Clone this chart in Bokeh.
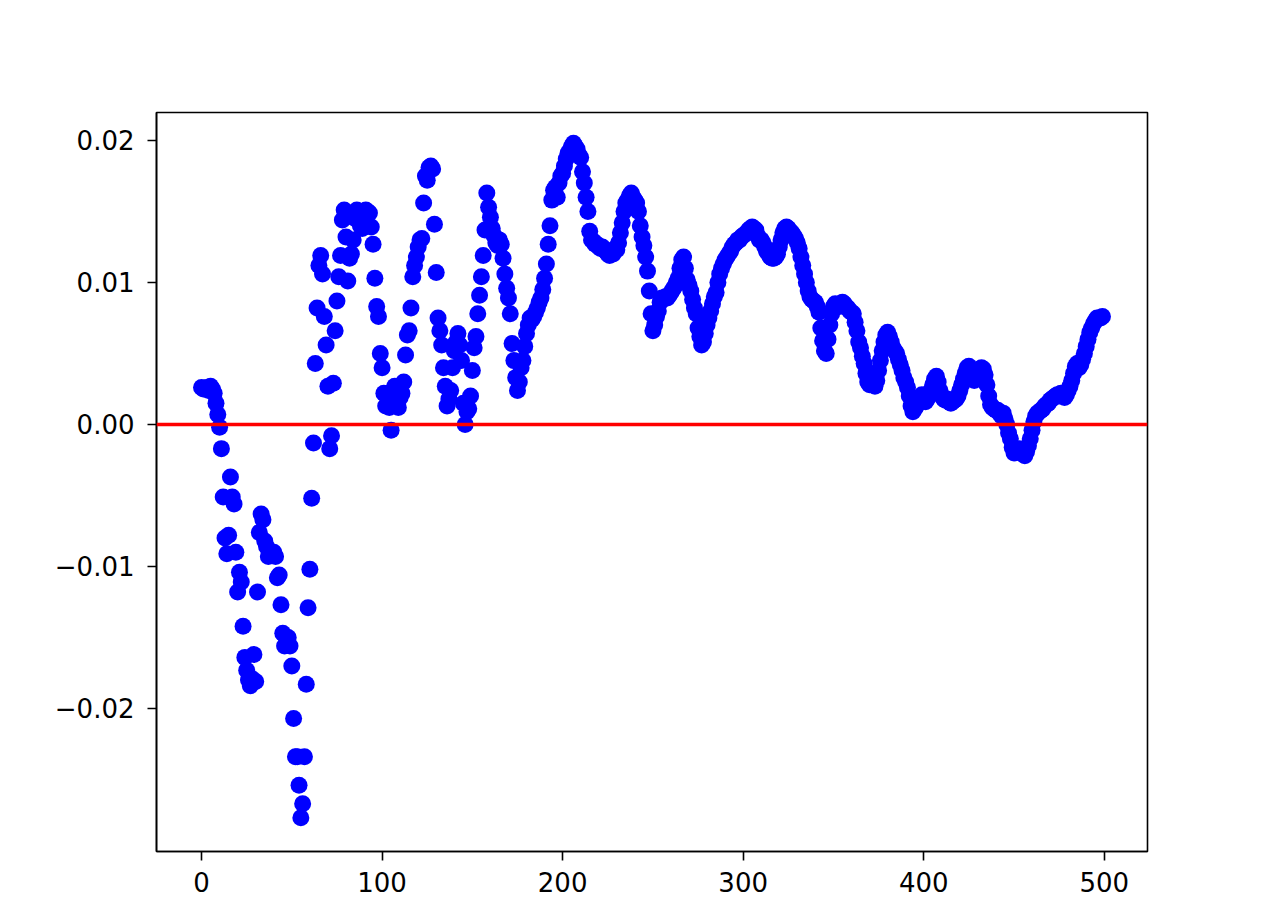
from bokeh.plotting import figure
from bokeh.models import Range1d, Span, FixedTicker
from bokeh.embed import file_html
from bokeh.resources import INLINE

# Series values, index 0..499
vals_000_099 = [
    0.0026, 0.0025, 0.0025, 0.0026, 0.0024, 0.0027, 0.0025, 0.0022, 0.0015, 0.0007,
    -0.0002, -0.0017, -0.0051, -0.0080, -0.0091, -0.0078, -0.0037, -0.0051, -0.0056, -0.0090,
    -0.0118, -0.0104, -0.0111, -0.0142, -0.0164, -0.0173, -0.0180, -0.0184, -0.0179, -0.0162,
    -0.0181, -0.0118, -0.0076, -0.0063, -0.0067, -0.0082, -0.0086, -0.0093, -0.0091, -0.0092,
    -0.0090, -0.0093, -0.0108, -0.0106, -0.0127, -0.0147, -0.0156, -0.0154, -0.0150, -0.0156,
    -0.0170, -0.0207, -0.0234, -0.0234, -0.0254, -0.0277, -0.0267, -0.0234, -0.0183, -0.0129,
    -0.0102, -0.0052, -0.0013, 0.0043, 0.0082, 0.0112, 0.0119, 0.0106, 0.0076, 0.0056,
    0.0027, -0.0017, -0.0008, 0.0029, 0.0066, 0.0087, 0.0104, 0.0119, 0.0144, 0.0151,
    0.0132, 0.0101, 0.0117, 0.0120, 0.0130, 0.0145, 0.0151, 0.0146, 0.0140, 0.0138,
    0.0145, 0.0151, 0.0150, 0.0149, 0.0139, 0.0127, 0.0103, 0.0083, 0.0076, 0.0050,
]
vals_100_199 = [
    0.0040, 0.0022, 0.0013, 0.0022, 0.0012, -0.0004, 0.0015, 0.0027, 0.0020, 0.0012,
    0.0019, 0.0022, 0.0030, 0.0049, 0.0063, 0.0066, 0.0082, 0.0104, 0.0112, 0.0118,
    0.0125, 0.0130, 0.0131, 0.0156, 0.0175, 0.0172, 0.0181, 0.0182, 0.0180, 0.0141,
    0.0107, 0.0075, 0.0066, 0.0056, 0.0040, 0.0027, 0.0013, 0.0018, 0.0024, 0.0040,
    0.0052, 0.0058, 0.0064, 0.0056, 0.0045, 0.0015, 0.0000, 0.0009, 0.0011, 0.0020,
    0.0038, 0.0054, 0.0062, 0.0078, 0.0091, 0.0104, 0.0119, 0.0137, 0.0163, 0.0153,
    0.0146, 0.0138, 0.0133, 0.0128, 0.0126, 0.0130, 0.0127, 0.0117, 0.0106, 0.0096,
    0.0089, 0.0078, 0.0057, 0.0045, 0.0033, 0.0024, 0.0030, 0.0040, 0.0045, 0.0055,
    0.0064, 0.0070, 0.0075, 0.0074, 0.0076, 0.0079, 0.0082, 0.0086, 0.0089, 0.0095,
    0.0103, 0.0113, 0.0127, 0.0140, 0.0158, 0.0165, 0.0167, 0.0160, 0.0170, 0.0175,
]
vals_200_299 = [
    0.0177, 0.0182, 0.0187, 0.0191, 0.0193, 0.0196, 0.0198, 0.0196, 0.0194, 0.0190,
    0.0188, 0.0178, 0.0170, 0.0160, 0.0150, 0.0136, 0.0130, 0.0129, 0.0127, 0.0127,
    0.0125, 0.0124, 0.0125, 0.0123, 0.0122, 0.0120, 0.0119, 0.0121, 0.0120, 0.0124,
    0.0123, 0.0128, 0.0135, 0.0142, 0.0150, 0.0156, 0.0158, 0.0161, 0.0163, 0.0160,
    0.0158, 0.0156, 0.0150, 0.0140, 0.0132, 0.0126, 0.0118, 0.0108, 0.0094, 0.0078,
    0.0066, 0.0070, 0.0076, 0.0080, 0.0086, 0.0089, 0.0089, 0.0090, 0.0089, 0.0091,
    0.0093, 0.0095, 0.0097, 0.0100, 0.0103, 0.0110, 0.0116, 0.0118, 0.0110, 0.0102,
    0.0098, 0.0094, 0.0088, 0.0082, 0.0078, 0.0068, 0.0062, 0.0056, 0.0058, 0.0064,
    0.0070, 0.0075, 0.0080, 0.0085, 0.0090, 0.0093, 0.0100, 0.0106, 0.0110, 0.0113,
    0.0116, 0.0118, 0.0120, 0.0122, 0.0125, 0.0127, 0.0128, 0.0130, 0.0130, 0.0132,
]
vals_300_399 = [
    0.0133, 0.0134, 0.0135, 0.0137, 0.0138, 0.0139, 0.0138, 0.0137, 0.0133, 0.0130,
    0.0130, 0.0128, 0.0125, 0.0122, 0.0120, 0.0118, 0.0117, 0.0117, 0.0118, 0.0120,
    0.0125, 0.0130, 0.0135, 0.0138, 0.0139, 0.0138, 0.0136, 0.0135, 0.0133, 0.0131,
    0.0128, 0.0124, 0.0118, 0.0112, 0.0106, 0.0100, 0.0094, 0.0090, 0.0088, 0.0087,
    0.0086, 0.0083, 0.0079, 0.0068, 0.0059, 0.0052, 0.0050, 0.0060, 0.0070, 0.0078,
    0.0083, 0.0085, 0.0084, 0.0083, 0.0085, 0.0086, 0.0085, 0.0083, 0.0082, 0.0080,
    0.0079, 0.0078, 0.0072, 0.0066, 0.0058, 0.0054, 0.0048, 0.0043, 0.0036, 0.0030,
    0.0028, 0.0031, 0.0029, 0.0027, 0.0031, 0.0038, 0.0045, 0.0052, 0.0058, 0.0063,
    0.0065, 0.0062, 0.0058, 0.0054, 0.0052, 0.0050, 0.0046, 0.0042, 0.0038, 0.0033,
    0.0030, 0.0026, 0.0020, 0.0013, 0.0009, 0.0011, 0.0013, 0.0016, 0.0019, 0.0021,
]
vals_400_499 = [
    0.0020, 0.0016, 0.0018, 0.0022, 0.0024, 0.0028, 0.0032, 0.0034, 0.0030, 0.0024,
    0.0020, 0.0018, 0.0017, 0.0018, 0.0016, 0.0015, 0.0016, 0.0017, 0.0018, 0.0020,
    0.0024, 0.0028, 0.0032, 0.0036, 0.0040, 0.0041, 0.0038, 0.0033, 0.0031, 0.0033,
    0.0036, 0.0039, 0.0040, 0.0039, 0.0035, 0.0028, 0.0020, 0.0014, 0.0012, 0.0011,
    0.0010, 0.0010, 0.0008, 0.0006, 0.0008, 0.0004, 0.0000, -0.0006, -0.0010, -0.0016,
    -0.0020, -0.0019, -0.0018, -0.0017, -0.0019, -0.0021, -0.0022, -0.0019, -0.0015, -0.0010,
    -0.0004, 0.0002, 0.0006, 0.0008, 0.0009, 0.0010, 0.0011, 0.0013, 0.0014, 0.0015,
    0.0017, 0.0018, 0.0019, 0.0020, 0.0021, 0.0020, 0.0022, 0.0020, 0.0019, 0.0021,
    0.0024, 0.0027, 0.0031, 0.0036, 0.0041, 0.0043, 0.0040, 0.0042, 0.0046, 0.0050,
    0.0055, 0.0060, 0.0065, 0.0068, 0.0071, 0.0073, 0.0075, 0.0075, 0.0075, 0.0076,
]

y_values = vals_000_099 + vals_100_199 + vals_200_299 + vals_300_399 + vals_400_499
x_values = list(range(len(y_values)))

x_ticks = [0, 100, 200, 300, 400, 500]
y_ticks = [-0.02, -0.01, 0.0, 0.01, 0.02]
y_tick_labels = {-0.02: "\u22120.02", -0.01: "\u22120.01", 0.0: "0.00", 0.01: "0.01", 0.02: "0.02"}

p = figure(width=1268, height=900, output_backend="svg", toolbar_location=None,
           x_range=Range1d(-24.95, 523.95), y_range=Range1d(-0.03007, 0.02197))
p.min_border_left = 156
p.min_border_right = 121
p.min_border_top = 112
p.min_border_bottom = 49
p.background_fill_color = "white"
p.border_fill_color = "white"
p.outline_line_color = "black"
p.outline_line_width = 1.6
p.xgrid.visible = False
p.ygrid.visible = False

p.scatter(x_values, y_values, size=17, marker="circle",
          fill_color="#0000ff", line_color="#0000ff", line_width=0)

p.add_layout(Span(location=0, dimension="width", line_color="#ff0000", line_width=3.5))

p.xaxis.ticker = FixedTicker(ticks=x_ticks)
p.yaxis.ticker = FixedTicker(ticks=y_ticks)
p.yaxis.major_label_overrides = y_tick_labels

for ax in (p.xaxis[0], p.yaxis[0]):
    ax.axis_line_color = "black"
    ax.axis_line_width = 1.6
    ax.major_tick_line_color = "black"
    ax.major_tick_line_width = 1.6
    ax.major_tick_out = 9
    ax.major_tick_in = 0
    ax.minor_tick_line_color = None
    ax.major_label_text_font = "DejaVu Sans"
    ax.major_label_text_font_size = "26px"
    ax.major_label_text_color = "black"
p.xaxis.major_label_standoff = 11
p.yaxis.major_label_standoff = 13

open("out.html", "w").write(file_html(p, INLINE))
